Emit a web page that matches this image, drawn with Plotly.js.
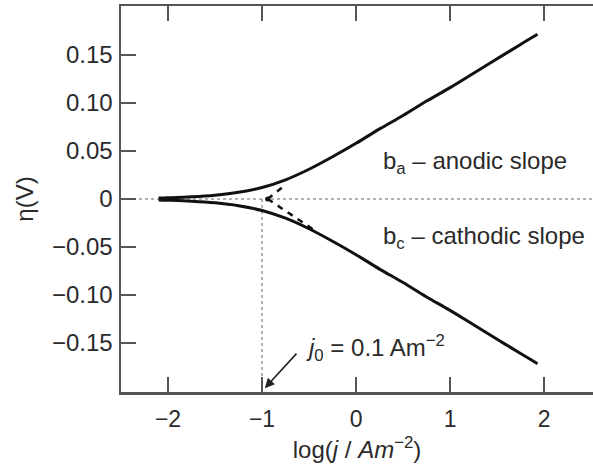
<!DOCTYPE html>
<html>
<head>
<meta charset="utf-8">
<script src="https://cdn.plot.ly/plotly-3.0.1.min.js"></script>
<style>html,body{margin:0;padding:0;background:#fff;}#chart{width:593px;height:472px;}</style>
</head>
<body>
<div id="chart"></div>
<script>
// log(j / A m^-2) positions along the curves
var logJ = [-2.1, -2.0, -1.75, -1.5, -1.25, -1.0, -0.75, -0.5, -0.25, 0, 0.25, 0.5, 0.75, 1.0, 1.25, 1.5, 1.75, 1.93];
// overpotential (V), anodic branch
var etaAnodic = [0.001, 0.0013, 0.0023, 0.004, 0.007, 0.012, 0.020, 0.031, 0.044, 0.058, 0.073, 0.087, 0.102, 0.116, 0.131, 0.146, 0.161, 0.1715];
// overpotential (V), cathodic branch
var etaCathodic = [-0.001, -0.0013, -0.0023, -0.004, -0.007, -0.012, -0.020, -0.031, -0.044, -0.058, -0.073, -0.087, -0.102, -0.116, -0.131, -0.146, -0.161, -0.1715];
// Tafel extrapolations (dashed)
var tafelAX = [-0.94, -0.74];
var tafelAY = [0.0, 0.0155];
var tafelCX = [-0.94, -0.42];
var tafelCY = [0.0, -0.034];
// reference lines
var zeroLineX = [-2.5, 2.52];
var zeroLineY = [0, 0];
var j0LineX = [-1, -1];
var j0LineY = [0, -0.201];
// ticks
var xTickVals = [-2, -1, 0, 1, 2];
var xTickText = ['\u22122', '\u22121', '0', '1', '2'];
var yTickVals = [0.15, 0.10, 0.05, 0, -0.05, -0.10, -0.15];
var yTickText = ['0.15', '0.10', '0.05', '0', '\u22120.05', '\u22120.10', '\u22120.15'];

var font = 'Liberation Sans, Arial, sans-serif';
var txt = '#2a2a2a';
var traces = [
  {x: zeroLineX, y: zeroLineY, mode: 'lines', line: {color: '#999', width: 1.5, dash: 'dot'}, hoverinfo: 'skip'},
  {x: j0LineX, y: j0LineY, mode: 'lines', line: {color: '#999', width: 1.5, dash: 'dot'}, hoverinfo: 'skip'},
  {x: logJ, y: etaAnodic, mode: 'lines', line: {color: '#111', width: 3, shape: 'spline'}},
  {x: logJ, y: etaCathodic, mode: 'lines', line: {color: '#111', width: 3, shape: 'spline'}},
  {x: tafelAX, y: tafelAY, mode: 'lines', line: {color: '#111', width: 2.5, dash: '6px,6px'}},
  {x: tafelCX, y: tafelCY, mode: 'lines', line: {color: '#111', width: 2.5, dash: '6px,6px'}},
  {x: [tafelAX[0]], y: [tafelAY[0]], mode: 'markers', marker: {color: '#111', size: 5}}
];

var layout = {
  width: 593, height: 472,
  margin: {l: 121, r: 0, t: 6, b: 80},
  paper_bgcolor: '#fff', plot_bgcolor: '#fff',
  showlegend: false,
  font: {family: font, size: 24, color: txt},
  xaxis: {
    range: [-2.5, 2.52], showgrid: false, zeroline: false,
    showline: true, linecolor: '#555', linewidth: 2.5, mirror: 'all',
    ticks: 'inside', ticklen: 15, tickwidth: 2, tickcolor: '#555',
    tickvals: xTickVals, ticktext: xTickText,
    tickfont: {family: font, size: 23, color: txt},
    ticklabelstandoff: 5,
    title: {text: 'log(<i>j</i> / <i>Am</i><sup>\u22122</sup>)', font: {family: font, size: 24, color: txt}, standoff: 10}
  },
  yaxis: {
    range: [-0.201, 0.201], showgrid: false, zeroline: false,
    showline: true, linecolor: '#555', linewidth: 2.5, mirror: false,
    ticks: 'inside', ticklen: 15, tickwidth: 2, tickcolor: '#555',
    tickvals: yTickVals, ticktext: yTickText,
    tickfont: {family: font, size: 24, color: txt},
    ticklabelstandoff: 1,
    title: {text: '\u03b7(V)', font: {family: font, size: 24, color: txt}, standoff: 12}
  },
  annotations: [
    {x: 0.266, y: 0.0375, xref: 'x', yref: 'y', xanchor: 'left', yanchor: 'middle', showarrow: false,
     text: 'b<sub>a</sub> \u2013 anodic slope', font: {family: font, size: 24, color: txt}},
    {x: 0.266, y: -0.0406, xref: 'x', yref: 'y', xanchor: 'left', yanchor: 'middle', showarrow: false,
     text: 'b<sub>c</sub> \u2013 cathodic slope', font: {family: font, size: 24, color: txt}},
    {x: -0.553, y: -0.155, xref: 'x', yref: 'y', xanchor: 'left', yanchor: 'middle', showarrow: false,
     text: '<i>j</i><sub>0</sub> = 0.1 Am<sup>\u22122</sup>', font: {family: font, size: 24, color: txt}},
    {x: -0.97, y: -0.197, xref: 'x', yref: 'y', text: '', showarrow: true,
     ax: 33, ay: -36, arrowhead: 2, arrowsize: 1.2, arrowwidth: 1.6, arrowcolor: '#222'}
  ]
};
Plotly.newPlot('chart', traces, layout, {displayModeBar: false, staticPlot: true});
</script>
</body>
</html>
